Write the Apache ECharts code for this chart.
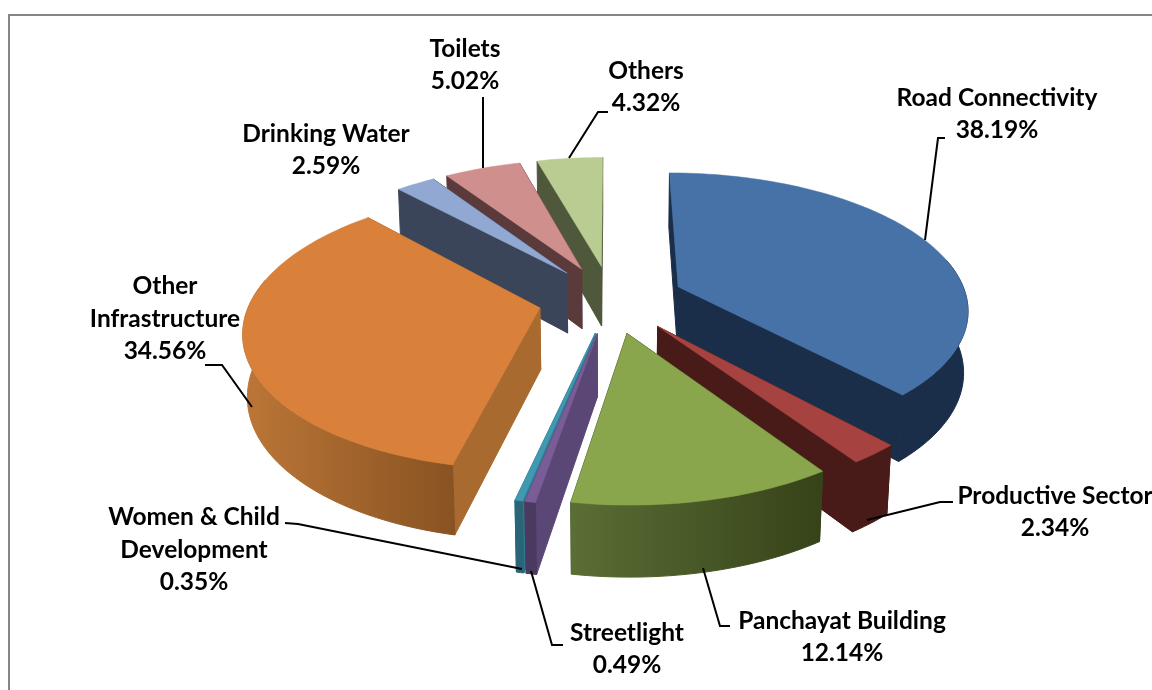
<!DOCTYPE html>
<html><head><meta charset="utf-8">
<style>html,body{margin:0;padding:0;background:#fff}#c{width:1152px;height:690px}</style>
<script src="https://cdn.jsdelivr.net/npm/echarts@6/dist/echarts.min.js"></script>
</head><body><div id="c"></div>
<script>
const categories = ["Road Connectivity","Productive Sector","Panchayat Building","Streetlight","Women & Child\nDevelopment","Other\nInfrastructure","Drinking Water","Toilets","Others"];
const shares = [38.19,2.34,12.14,0.49,0.35,34.56,2.59,5.02,4.32];

const topColors  = ["#4672A8","#A64341","#8AA64C","#7A5C97","#4198B1","#D9803A","#90A8D2","#CF8F8D","#B9CC92"];
const wallColors = [["#1A2E49","#1A2E49"],["#481B19","#481B19"],["#5A6E35","#364218"],["#4B3A60","#4B3A60"],["#2A6577","#2A6577"],["#BC7637","#885322"],["#3B4559","#3B4559"],["#5A3A3A","#5A3A3A"],["#4F583A","#4F583A"]];
const cutColors  = ["#1A2E49","#481B19","#3A4620","#5B4776","#2F7A90","#A96A2F","#3B4559","#5A3A3A","#4F583A"];
const labelPos = [[997,114],[1055,512],[842,637],[627,649],[194,550],[165,319],[326,150],[465,65],[646,87]];
const leaders = [
  [[945,138],[938,138],[925,240]],
  [[953,502],[940,502],[867,520]],
  [[730,626],[720,626],[703,568]],
  [[563,645],[552,645],[531,571]],
  [[285,523],[298,524],[522,569]],
  [[205,365],[222,365],[252,407]],
  null,
  [[483,97],[483,168]],
  [[608,112],[598,112],[569,158]]
];

const GEO = {cx:611, cy:299, R:289, E:73, persp:0.15, tilt:0.465, H:62, shrink:0.0002, rot:0};
const rad = d => d*Math.PI/180;
const total = shares.reduce((a,b)=>a+b,0);
const spans = [];
shares.reduce((acc,v)=>{const s=acc, e=acc+v/total*360; spans.push([s+GEO.rot,e+GEO.rot]); return e;},0);

function project(X,Y,z){
  const s = 1/(1 - GEO.persp*Y/GEO.R + GEO.shrink*z);
  return [GEO.cx + s*X, GEO.cy + s*(GEO.tilt*Y + z)];
}
function pointOf(i,theta,r,z){
  const m = rad((spans[i][0]+spans[i][1])/2);
  const X = GEO.E*Math.sin(m) + r*Math.sin(rad(theta));
  const Y = -GEO.E*Math.cos(m) - r*Math.cos(rad(theta));
  return project(X,Y,z);
}
function arc(i,a,b,z){
  const n = Math.max(2,Math.ceil(Math.abs(b-a)/1.5)), pts=[];
  for(let k=0;k<=n;k++) pts.push(pointOf(i,a+(b-a)*k/n,GEO.R,z));
  return pts;
}
function renderSlice(params,api){
  const i = api.value(0), [a,b] = spans[i], H = GEO.H;
  const apex = pointOf(i,a,0,0), apexB = pointOf(i,a,0,H);
  const kids = [];
  const poly = (pts,fill,lw) => ({type:'polygon',shape:{points:pts},style:{fill,stroke:fill,lineWidth:lw}});
  const cut = t => poly([apex,pointOf(i,t,GEO.R,0),pointOf(i,t,GEO.R,H),apexB],cutColors[i],1);
  kids.push(cut(a)); kids.push(cut(b));
  const fa = Math.max(a,78), fb = Math.min(b,282);
  if(fb>fa){
    const t = arc(i,fa,fb,0), w = arc(i,fa,fb,H);
    const xs = t.concat(w).map(p=>p[0]), x0=Math.min(...xs), x1=Math.max(...xs);
    const grad = new echarts.graphic.LinearGradient(x0,0,x1,0,[{offset:0,color:wallColors[i][0]},{offset:1,color:wallColors[i][1]}],true);
    kids.push(poly(t.concat(w.reverse()),grad,1));
  }
  kids.push(poly([apex].concat(arc(i,a,b,0)),topColors[i],0.5));
  return {type:'group',children:kids};
}
function renderLabel(params,api){
  const i = api.value(0), kids=[];
  if(leaders[i]) kids.push({type:'polyline',shape:{points:leaders[i]},style:{stroke:'#000',lineWidth:2,fill:null}});
  kids.push({type:'text',x:labelPos[i][0],y:labelPos[i][1],style:{
    text:categories[i]+"\n"+shares[i].toFixed(2)+"%",
    fontFamily:'Lato',fontWeight:'bold',fontSize:24.5,lineHeight:32.5,
    fill:'#000',align:'center',verticalAlign:'middle'}});
  return {type:'group',children:kids};
}
// paint back slices first
const depth = i => -Math.cos(rad((spans[i][0]+spans[i][1])/2));
const order = shares.map((_,i)=>i).sort((p,q)=>depth(p)-depth(q));

const chart = echarts.init(document.getElementById('c'),null,{renderer:'canvas'});
chart.setOption({
  animation:false,
  backgroundColor:'#fff',
  graphic:[{type:'polyline',z:0,shape:{points:[[9,690],[9,15],[1152,15]]},style:{stroke:'#868686',lineWidth:2,fill:null}}],
  series:[
    {type:'custom',coordinateSystem:'none',z:2,silent:true,renderItem:renderSlice,
     data:order.map(i=>({name:categories[i],value:[i,shares[i]]})),encode:{}},
    {type:'custom',coordinateSystem:'none',z:3,silent:true,renderItem:renderLabel,
     data:shares.map((v,i)=>({name:categories[i],value:[i,v]})),encode:{}}
  ]
});
</script></body></html>
